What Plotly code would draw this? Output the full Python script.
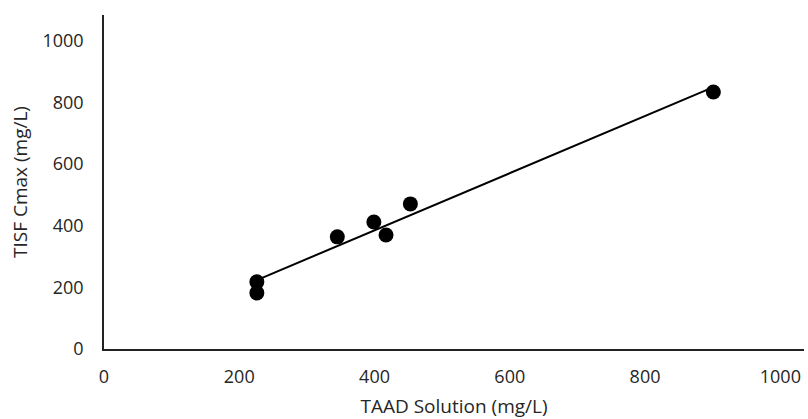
import numpy as np
import plotly.graph_objects as go

taad_solution = [226, 226, 345, 399, 417, 453, 901]
tisf_cmax = [218, 182, 364, 412, 370, 471, 834]

x_ticks = [0, 200, 400, 600, 800, 1000]
y_ticks = [0, 200, 400, 600, 800, 1000]

slope, intercept = np.polyfit(taad_solution, tisf_cmax, 1)
x_line = [min(taad_solution), max(taad_solution)]
y_line = [slope * v + intercept for v in x_line]

fig = go.Figure()
fig.add_trace(go.Scatter(x=x_line, y=y_line, mode="lines",
                         line=dict(color="black", width=2), hoverinfo="skip"))
fig.add_trace(go.Scatter(x=taad_solution, y=tisf_cmax, mode="markers",
                         marker=dict(color="black", size=15)))

font_color = "#262626"
fig.update_layout(
    width=808, height=419,
    margin=dict(l=104, r=4, t=15, b=70),
    paper_bgcolor="white", plot_bgcolor="white",
    showlegend=False,
    font=dict(family="Open Sans, sans-serif", color=font_color, size=18),
    xaxis=dict(range=[0, 1035], tickvals=x_ticks, showgrid=False, zeroline=False,
               showline=True, linecolor="#222", linewidth=1.5, automargin=False,
               ticks="", ticklabelstandoff=11, tickfont=dict(size=18),
               title=dict(text="TAAD Solution (mg/L)", font=dict(size=19), standoff=17)),
    yaxis=dict(range=[0, 1084], tickvals=y_ticks, showgrid=False, zeroline=False,
               showline=True, linecolor="#222", linewidth=1.5, automargin=False,
               ticks="", ticklabelstandoff=15, tickfont=dict(size=18),
               title=dict(text="TISF Cmax (mg/L)", font=dict(size=19), standoff=10)),
)
fig.write_html("out.html", config={"displayModeBar": False},
               post_script="document.body.style.margin='0';document.body.style.overflow='hidden';")
